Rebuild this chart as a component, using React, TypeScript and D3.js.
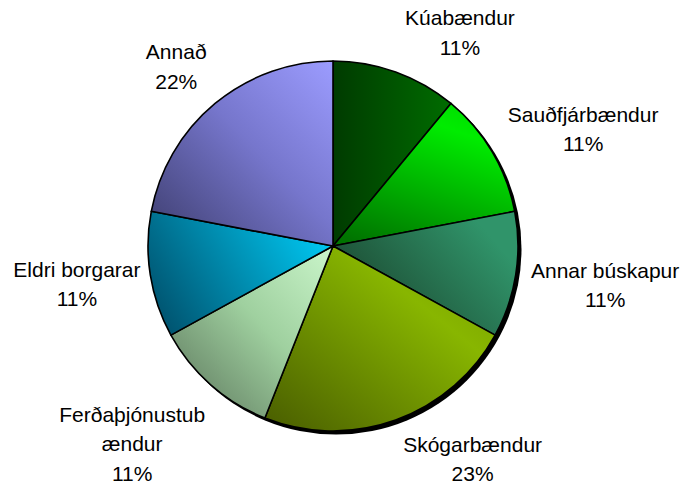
import * as d3 from 'd3';

const categories = [
  'Kúabændur',
  'Sauðfjárbændur',
  'Annar búskapur',
  'Skógarbændur',
  'Ferðaþjónustubændur',
  'Eldri borgarar',
  'Annað',
];
const values = [11, 11, 11, 23, 11, 11, 22];
// how the category names wrap in the labels
const labelLines = [
  ['Kúabændur'],
  ['Sauðfjárbændur'],
  ['Annar búskapur'],
  ['Skógarbændur'],
  ['Ferðaþjónustub', 'ændur'],
  ['Eldri borgarar'],
  ['Annað'],
];

// gradient fill per slice: [x1, y1, x2, y2] in bounding box units + stops
const sliceFills = [
  { dir: [0, 0, 1, 0], stops: [[0, '#003b00'], [1, '#006c00']] },
  { dir: [0.2, 1, 0.65, 0], stops: [[0, '#007400'], [0.85, '#00ec00'], [1, '#00e000']] },
  { dir: [0, 0.7, 0.85, 0.2], stops: [[0, '#1a432c'], [1, '#30946a']] },
  { dir: [0, 1, 1, 0], stops: [[0, '#485c00'], [0.68, '#88b600'], [1, '#749a00']] },
  { dir: [0, 1, 1, 0], stops: [[0, '#587058'], [0.55, '#9fd09f'], [1, '#cbf6cb']] },
  { dir: [0, 0.7, 1, 0.3], stops: [[0, '#005470'], [1, '#00c8f2']] },
  { dir: [0, 1, 1, 0], stops: [[0, '#3c3c6c'], [0.55, '#7676cc'], [1, '#9c9cff']] },
];

// label placement: angle nudge (deg) from the slice middle, distance from the centre
const labelLayout = [
  { da: 11, r: 248 },
  { da: 5.6, r: 276 },
  { da: -0.7, r: 275 },
  { da: -13.4, r: 255 },
  { da: 4, r: 282 },
  { da: 0.4, r: 259 },
  { da: -1.6, r: 238 },
];

const width = 688;
const height = 490;
const cx = 333;
const cy = 246;
const radius = 185;
const lineH = 29.5;

export default function App() {
  const pie = d3.pie<number>().sort(null)(values);
  const arc = d3.arc<d3.PieArcDatum<number>>().innerRadius(0).outerRadius(radius);
  const total = d3.sum(values);

  return (
    <svg
      width={width}
      height={height}
      style={{ position: 'absolute', left: 0, top: 0, background: '#fff' }}
      fontFamily="'Liberation Sans', Arial, sans-serif"
    >
      <defs>
        {sliceFills.map((f, i) => (
          <linearGradient
            key={i}
            id={`slice${i}`}
            x1={f.dir[0]}
            y1={f.dir[1]}
            x2={f.dir[2]}
            y2={f.dir[3]}
          >
            {f.stops.map(([o, c], j) => (
              <stop key={j} offset={o as number} stopColor={c as string} />
            ))}
          </linearGradient>
        ))}
      </defs>

      {/* drop shadow */}
      <circle cx={cx + 3} cy={cy + 3} r={radius + 0.5} fill="#000" />

      <g transform={`translate(${cx},${cy})`}>
        {pie.map((d, i) => (
          <path
            key={categories[i]}
            d={arc(d) || ''}
            fill={`url(#slice${i})`}
            stroke="#000"
            strokeWidth={1.6}
            strokeLinejoin="round"
          />
        ))}
      </g>

      {pie.map((d, i) => {
        const lay = labelLayout[i];
        const a = (d.startAngle + d.endAngle) / 2 + (lay.da * Math.PI) / 180;
        const x = cx + lay.r * Math.sin(a);
        const y = cy - lay.r * Math.cos(a);
        const lines = [...labelLines[i], `${Math.round((values[i] / total) * 100)}%`];
        const b1 = y - ((lines.length - 1) * lineH) / 2 + 7;
        return (
          <text key={categories[i]} textAnchor="middle" fontSize={21} fill="#000">
            {lines.map((t, j) => (
              <tspan key={j} x={x} y={b1 + j * lineH}>
                {t}
              </tspan>
            ))}
          </text>
        );
      })}
    </svg>
  );
}
